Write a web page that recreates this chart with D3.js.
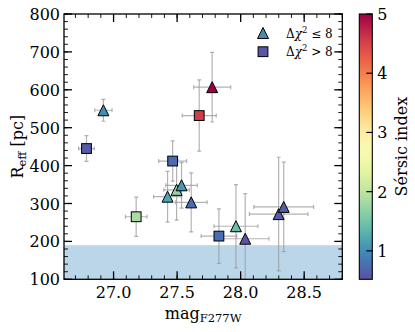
<!DOCTYPE html>
<html>
<head>
<meta charset="utf-8">
<script src="https://cdn.jsdelivr.net/npm/d3@7"></script>
<style>
  body { margin: 0; background: #fff; }
  svg text { fill: #000; font-family: "DejaVu Serif", serif; }
</style>
</head>
<body>
<svg id="chart" width="415" height="332"></svg>
<script>
const mag     = [26.92, 26.787, 27.776, 27.674, 27.465, 27.425, 27.496, 27.535, 27.611, 27.178, 27.963, 28.036, 27.829, 28.299, 28.339];
const magErr  = [0.068, 0.062, 0.146, 0.134, 0.11, 0.11, 0.10, 0.124, 0.125, 0.085, 0.173, 0.187, 0.14, 0.23, 0.235];
const reff    = [546, 445, 607, 532, 412, 318, 336, 348, 303, 265, 240, 207, 214, 272, 291];
const reffErr = [29, 34, 92, 94, 53, 67, 80, 60, 78, 52, 110, 119, 72, 150, 118];
const sersic  = [1.0, 0.6, 5.0, 4.55, 0.74, 1.2, 1.72, 1.1, 0.75, 1.86, 1.42, 0.55, 0.76, 0.6, 0.62];
const shape   = ["tri", "sq", "tri", "sq", "sq", "tri", "tri", "tri", "tri", "sq", "tri", "tri", "sq", "tri", "tri"];

const xTicks = [27.0, 27.5, 28.0, 28.5];
const yTicks = [100, 200, 300, 400, 500, 600, 700, 800];
const cbTicks = [1, 2, 3, 4, 5];
const sizeLimit = 190; // shaded band upper edge

const legendItems = [
  { shape: "tri", n: 1.0, label: "le" },
  { shape: "sq", n: 0.58, label: "gt" }
];

// Layout
const margin = { left: 64, top: 14 };
const plotW = 278.3, plotH = 265.3;
const cbX = 359.3, cbW = 13;

const svg = d3.select("#chart");
const g = svg.append("g").attr("transform", `translate(${margin.left},${margin.top})`);

const x = d3.scaleLinear().domain([26.61, 28.8]).range([0, plotW]);
const y = d3.scaleLinear().domain([100, 800]).range([plotH, 0]);
const cbScale = d3.scaleLinear().domain([0.52, 5]).range([plotH, 0]);
const color = (n) => d3.interpolateSpectral(1 - (n - 0.52) / (5 - 0.52));

svg.append("defs").append("clipPath").attr("id", "clip")
  .append("rect").attr("width", plotW).attr("height", plotH);

// Shaded band
g.append("rect")
  .attr("x", 0).attr("width", plotW)
  .attr("y", y(sizeLimit)).attr("height", y(100) - y(sizeLimit))
  .attr("fill", "#bcd6e9");

// Error bars
const data = mag.map((m, i) => ({ m, me: magErr[i], r: reff[i], re: reffErr[i], n: sersic[i], s: shape[i] }));
const eb = g.append("g").attr("clip-path", "url(#clip)")
  .attr("stroke", "#9a9a9a").attr("stroke-opacity", 0.75).attr("stroke-width", 1.2);
data.forEach((d) => {
  const cx = x(d.m), cy = y(d.r);
  const x0 = x(d.m - d.me), x1 = x(d.m + d.me);
  const y0 = y(d.r - d.re), y1 = y(d.r + d.re);
  eb.append("line").attr("x1", x0).attr("x2", x1).attr("y1", cy).attr("y2", cy);
  eb.append("line").attr("x1", cx).attr("x2", cx).attr("y1", y0).attr("y2", y1);
  [x0, x1].forEach((v) => eb.append("line").attr("x1", v).attr("x2", v).attr("y1", cy - 2).attr("y2", cy + 2));
  [y0, y1].forEach((v) => eb.append("line").attr("y1", v).attr("y2", v).attr("x1", cx - 2).attr("x2", cx + 2));
});

// Markers
function marker(sel, s, cx, cy, fill) {
  if (s === "tri") {
    const h = 5.5;
    sel.append("path")
      .attr("d", `M${cx},${cy - h}L${cx - h},${cy + h}L${cx + h},${cy + h}Z`)
      .attr("fill", fill).attr("stroke", "#000").attr("stroke-width", 1);
  } else {
    const h = 4.9;
    sel.append("rect")
      .attr("x", cx - h).attr("y", cy - h).attr("width", 2 * h).attr("height", 2 * h)
      .attr("fill", fill).attr("stroke", "#000").attr("stroke-width", 1);
  }
}
const mk = g.append("g");
data.forEach((d) => marker(mk, d.s, x(d.m), y(d.r), color(d.n)));

// Ticks on all four sides, pointing inward
const tk = g.append("g").attr("stroke", "#000");
const xMinor = d3.range(26.7, 28.81, 0.1);
const yMinor = d3.range(100, 801, 20);
xMinor.forEach((v) => {
  tk.append("line").attr("x1", x(v)).attr("x2", x(v)).attr("y1", plotH).attr("y2", plotH - 4).attr("stroke-width", 0.9);
  tk.append("line").attr("x1", x(v)).attr("x2", x(v)).attr("y1", 0).attr("y2", 4).attr("stroke-width", 0.9);
});
xTicks.forEach((v) => {
  tk.append("line").attr("x1", x(v)).attr("x2", x(v)).attr("y1", plotH).attr("y2", plotH - 8).attr("stroke-width", 1.3);
  tk.append("line").attr("x1", x(v)).attr("x2", x(v)).attr("y1", 0).attr("y2", 8).attr("stroke-width", 1.3);
});
yMinor.forEach((v) => {
  tk.append("line").attr("y1", y(v)).attr("y2", y(v)).attr("x1", 0).attr("x2", 4).attr("stroke-width", 0.9);
  tk.append("line").attr("y1", y(v)).attr("y2", y(v)).attr("x1", plotW).attr("x2", plotW - 4).attr("stroke-width", 0.9);
});
yTicks.forEach((v) => {
  tk.append("line").attr("y1", y(v)).attr("y2", y(v)).attr("x1", 0).attr("x2", 8).attr("stroke-width", 1.3);
  tk.append("line").attr("y1", y(v)).attr("y2", y(v)).attr("x1", plotW).attr("x2", plotW - 8).attr("stroke-width", 1.3);
});

// Frame
g.append("rect").attr("width", plotW).attr("height", plotH)
  .attr("fill", "none").attr("stroke", "#000").attr("stroke-width", 1.3);

// Tick labels
const fmt = d3.format(".1f");
g.selectAll(".xl").data(xTicks).join("text")
  .attr("x", (d) => x(d)).attr("y", plotH + 19)
  .attr("text-anchor", "middle").attr("font-size", 16).text(fmt);
g.selectAll(".yl").data(yTicks).join("text")
  .attr("x", -4).attr("y", (d) => y(d) + 6)
  .attr("text-anchor", "end").attr("font-size", 16).text((d) => d);

// Axis labels
const xl = g.append("text").attr("x", plotW / 2).attr("y", plotH + 40)
  .attr("text-anchor", "middle").attr("font-size", 16);
xl.append("tspan").text("mag");
xl.append("tspan").attr("font-size", 11.5).attr("dy", 3).text("F277W");

const yl = g.append("text")
  .attr("transform", `translate(${-41},${plotH / 2}) rotate(-90)`)
  .attr("text-anchor", "middle").attr("font-size", 16);
yl.append("tspan").text("R");
yl.append("tspan").attr("font-size", 11.5).attr("dy", 3).text("eff");
yl.append("tspan").attr("dy", -3).text(" [pc]");

// Legend
const lg = g.append("g");
legendItems.forEach((d, i) => {
  const ly = 19 + i * 18.7;
  marker(lg, d.shape, 199, ly, color(d.n));
  const t = lg.append("text").attr("x", 222).attr("y", ly + 4.5).attr("font-size", 12);
  t.append("tspan").text("Δ");
  t.append("tspan").attr("font-style", "italic").text("χ");
  t.append("tspan").attr("font-size", 8.5).attr("dy", -5).text("2");
  t.append("tspan").attr("dy", 5).text(d.label === "le" ? " ≤ 8" : " > 8");
});

// Colorbar
const grad = svg.select("defs").append("linearGradient").attr("id", "cb")
  .attr("x1", 0).attr("x2", 0).attr("y1", 1).attr("y2", 0);
d3.range(0, 1.0001, 0.05).forEach((t) => {
  grad.append("stop").attr("offset", t).attr("stop-color", d3.interpolateSpectral(1 - t));
});
const cb = svg.append("g").attr("transform", `translate(${cbX},${margin.top})`);
cb.append("rect").attr("width", cbW).attr("height", plotH).attr("fill", "url(#cb)");
cbTicks.forEach((v) => {
  cb.append("line").attr("x1", cbW).attr("x2", cbW - 6).attr("y1", cbScale(v)).attr("y2", cbScale(v))
    .attr("stroke", "#000").attr("stroke-width", 1.2);
});
cb.append("rect").attr("width", cbW).attr("height", plotH)
  .attr("fill", "none").attr("stroke", "#000").attr("stroke-width", 1.1);
cb.selectAll(".cl").data(cbTicks).join("text")
  .attr("x", cbW + 5).attr("y", (d) => cbScale(d) + 6)
  .attr("font-size", 16).text((d) => d);
cb.append("text")
  .attr("transform", `translate(${cbW + 35},${plotH / 2}) rotate(-90)`)
  .attr("text-anchor", "middle").attr("font-size", 16).text("Sérsic index");
</script>
</body>
</html>
